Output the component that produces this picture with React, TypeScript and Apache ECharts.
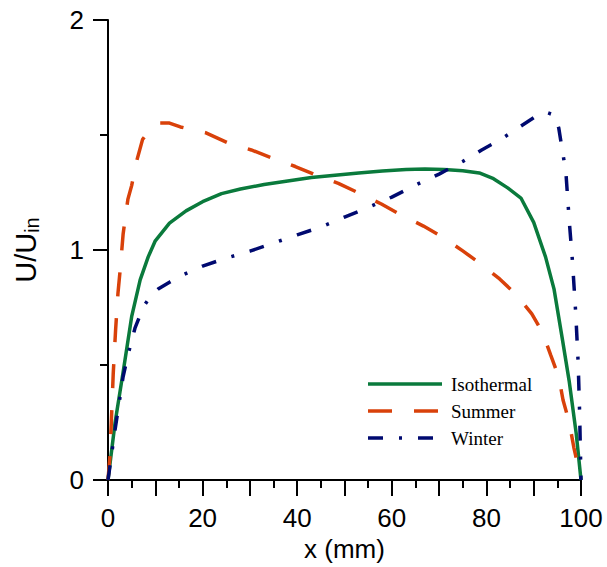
import React, { useEffect, useRef } from "react";
import * as echarts from "echarts";

const isoX = [0, 1.5, 3.2, 5, 6.8, 8.5, 10, 13, 16.5, 20, 24, 28, 33, 38, 43, 48, 53, 58, 63, 67, 71, 75, 78.5, 81.5, 84.5, 87.3, 90, 92.5, 94.3, 96, 97.5, 99, 100];
const isoY = [0, 0.25, 0.47, 0.71, 0.87, 0.97, 1.04, 1.117, 1.17, 1.21, 1.245, 1.265, 1.285, 1.3, 1.315, 1.325, 1.335, 1.343, 1.35, 1.352, 1.35, 1.345, 1.335, 1.31, 1.27, 1.226, 1.12, 0.97, 0.83, 0.62, 0.43, 0.2, 0];

const sumX = [0, 0.4, 0.7, 1.1, 1.6, 2.1, 2.6, 3.2, 4.2, 5, 6.1, 7.3, 9, 11, 13, 15.3, 20.6, 25.4, 30.3, 34.7, 39.6, 44, 48.7, 53, 57.8, 62, 66.7, 70.8, 75, 78.8, 82.8, 86.4, 89.6, 91.9, 93.6, 95.3, 96.2, 97.5, 98.5, 99.6];
const sumY = [0, 0.1, 0.25, 0.46, 0.65, 0.81, 0.92, 1.07, 1.22, 1.28, 1.39, 1.48, 1.53, 1.552, 1.552, 1.535, 1.51, 1.465, 1.435, 1.4, 1.363, 1.326, 1.29, 1.248, 1.2, 1.152, 1.104, 1.056, 0.996, 0.94, 0.874, 0.804, 0.722, 0.64, 0.543, 0.448, 0.348, 0.252, 0.14, 0.04];

const winX = [0, 1.5, 3.2, 4.3, 5.7, 7.4, 9, 10.6, 13, 15.3, 20, 25, 30, 35, 40, 45, 50, 55, 60, 65, 70, 75, 79, 83, 87, 90, 92.5, 94.5, 95.3, 96, 96.8, 97.5, 98.2, 98.9, 99.4, 99.7, 100];
const winY = [0, 0.22, 0.45, 0.55, 0.66, 0.75, 0.8, 0.83, 0.86, 0.887, 0.93, 0.965, 0.995, 1.03, 1.066, 1.1, 1.143, 1.185, 1.23, 1.282, 1.33, 1.385, 1.435, 1.48, 1.535, 1.575, 1.6, 1.585, 1.53, 1.44, 1.34, 1.13, 0.95, 0.72, 0.51, 0.3, 0];

const seriesNames = ["Isothermal", "Summer", "Winter"];
const seriesColors = ["#0a7a3c", "#d9410a", "#000a70"];
const seriesDash: (number[] | null)[] = [null, [24, 22], [15, 16, 3, 16]];
const xLabelTicks = [0, 20, 40, 60, 80, 100];

const zip = (xs: number[], ys: number[]) => xs.map((x, i) => [x, ys[i]]);

export default function App() {
  const ref = useRef<HTMLDivElement>(null);
  useEffect(() => {
    if (!ref.current) return;
    const chart = echarts.init(ref.current, null, { renderer: "svg" });
    const sans = "Liberation Sans, Arial, sans-serif";
    const serif = "Liberation Serif, Times New Roman, serif";
    const axisLine = { lineStyle: { color: "#000", width: 2 } };
    const legendRows = [384, 411, 438];
    const legendGraphic: any[] = [];
    seriesNames.forEach((n, i) => {
      legendGraphic.push({
        type: "line",
        shape: { x1: 368, y1: legendRows[i], x2: 442, y2: legendRows[i] },
        style: { stroke: seriesColors[i], lineWidth: 3.5, lineDash: seriesDash[i] || undefined },
      });
      legendGraphic.push({
        type: "text",
        x: 451,
        y: legendRows[i],
        style: { text: n, fontFamily: serif, fontSize: 19, fill: "#000", verticalAlign: "middle", align: "left" },
      });
    });
    const mk = (i: number, xs: number[], ys: number[]) => ({
      name: seriesNames[i],
      type: "line",
      data: zip(xs, ys),
      symbol: "none",
      lineStyle: { color: seriesColors[i], width: 3.5, type: seriesDash[i] || "solid" },
      itemStyle: { color: seriesColors[i] },
    });
    chart.setOption({
      animation: false,
      backgroundColor: "#fff",
      grid: { left: 108, right: 26, top: 20, bottom: 87, containLabel: false },
      graphic: legendGraphic,
      xAxis: {
        type: "value",
        min: 0,
        max: 100,
        interval: 10,
        name: "x (mm)",
        nameLocation: "middle",
        nameGap: 52,
        nameTextStyle: { fontFamily: sans, fontSize: 26, color: "#000" },
        axisLine,
        axisTick: { show: true, inside: false, length: 16, lineStyle: { color: "#000", width: 2 } },
        minorTick: { show: true, splitNumber: 2, length: 8, lineStyle: { color: "#000", width: 2 } },
        splitLine: { show: false },
        minorSplitLine: { show: false },
        axisLabel: {
          margin: 25,
          fontFamily: sans,
          fontSize: 26,
          color: "#000",
          formatter: (v: number) => (xLabelTicks.includes(v) ? String(v) : ""),
        },
      },
      yAxis: {
        type: "value",
        min: 0,
        max: 2,
        interval: 1,
        name: "{a|U/U}{b|in}",
        nameLocation: "middle",
        nameRotate: 90,
        nameGap: 66,
        nameTextStyle: {
          color: "#000",
          rich: {
            a: { fontFamily: sans, fontSize: 29, color: "#000" },
            b: { fontFamily: sans, fontSize: 20, color: "#000", verticalAlign: "bottom", padding: [12, 0, 0, 0] },
          },
        },
        axisLine,
        axisTick: { show: true, inside: false, length: 15, lineStyle: { color: "#000", width: 2 } },
        minorTick: { show: true, splitNumber: 2, length: 8, lineStyle: { color: "#000", width: 2 } },
        splitLine: { show: false },
        minorSplitLine: { show: false },
        axisLabel: { margin: 24, fontFamily: sans, fontSize: 26, color: "#000" },
      },
      series: [mk(0, isoX, isoY), mk(1, sumX, sumY), mk(2, winX, winY)],
    });
    return () => chart.dispose();
  }, []);
  return <div ref={ref} style={{ position: "absolute", left: 0, top: 0, width: 607, height: 567 }} />;
}
